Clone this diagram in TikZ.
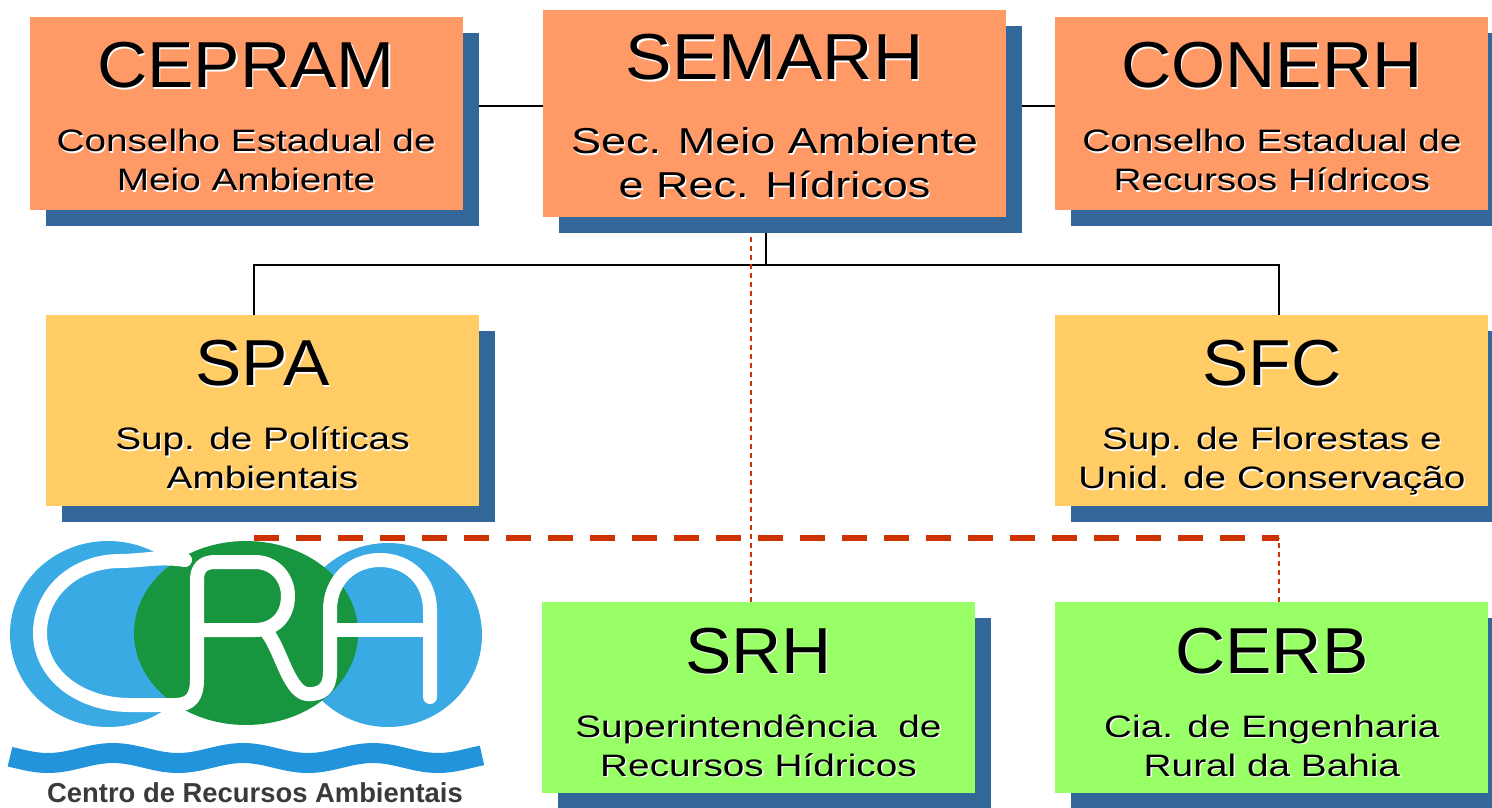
\documentclass[tikz,border=0pt]{standalone}
\usepackage{fontspec}
\setmainfont{Liberation Sans}
\newfontfamily\ttlfont[FakeStretch=1.07]{Liberation Sans}
\newfontfamily\subfont[FakeStretch=1.25]{Liberation Sans}
\usepackage{tikz}
\usetikzlibrary{positioning}
\usetikzlibrary{shadows}
\usetikzlibrary{backgrounds}
\usepackage{xcolor}
\definecolor{boxorange}{HTML}{FF9966}
\definecolor{boxyellow}{HTML}{FFCC66}
\definecolor{boxgreen}{HTML}{99FF66}
\definecolor{shadowblue}{HTML}{336699}
\definecolor{reddash}{HTML}{CC3300}
\definecolor{logoblue}{HTML}{3AAAE4}
\definecolor{logogreen}{HTML}{17963F}
\definecolor{waveblue}{HTML}{2294DC}
\definecolor{logogray}{HTML}{3A3A3A}
% text with a light offset copy behind it
\newcommand\emb[1]{\makebox[0pt][l]{\hspace*{1.3pt}\raisebox{-1.3pt}{\color{white}#1}}#1}
\newcommand\orgtext[4]{
  \node[ttl, anchor=base] (#1T) at ([yshift=-71pt]#1.north) {\emb{#2}};
  \node[sub, anchor=base] (#1A) at ([yshift=-135pt]#1.north) {\emb{#3}};
  \node[sub, anchor=base] (#1B) at ([yshift=-174pt]#1.north) {\emb{#4}};
}

\begin{document}
\begin{tikzpicture}[x=1pt, y=1pt,
    orgbox/.style={rectangle, inner sep=0pt, minimum width=433pt, minimum height=191pt,
      drop shadow={shadow xshift=16pt, shadow yshift=-16pt, fill=shadowblue, opacity=1}},
    ttl/.style={font=\ttlfont\fontsize{65}{70}\selectfont, inner sep=0pt},
    sub/.style={font=\subfont\fontsize{31}{36}\selectfont, inner sep=0pt},
    link/.style={black, line width=1.5pt},
    thindash/.style={reddash, line width=1.3pt, dash pattern=on 5pt off 4pt},
    thickdash/.style={reddash, line width=5.5pt, dash pattern=on 25pt off 17pt},
    letter/.style={white, line width=14pt, line cap=round, line join=round}]
  \useasboundingbox (0,0) rectangle (1492,-807);

  % top row
  \node[orgbox, fill=boxorange, minimum width=463pt, minimum height=207pt] (semarh) at (774.5,-113.5) {};
  \node[orgbox, fill=boxorange, minimum height=193pt, left=80pt of semarh] (cepram) {};
  \node[orgbox, fill=boxorange, minimum height=193pt, right=49pt of semarh] (conerh) {};
  % middle row
  \node[orgbox, fill=boxyellow] (spa) at (262.5,-410.5) {};
  \node[orgbox, fill=boxyellow, right=576pt of spa] (sfc) {};
  % bottom row
  \node[orgbox, fill=boxgreen, below=96pt of sfc] (cerb) {};
  \node[orgbox, fill=boxgreen, left=80pt of cerb] (srh) {};

  \node[ttl, anchor=base] (semarhT) at ([yshift=-70pt]semarh.north) {\emb{SEMARH}};
  \node[sub, font=\subfont\fontsize{36}{40}\selectfont, anchor=base] (semarhA) at ([yshift=-144pt]semarh.north) {\emb{Sec. Meio Ambiente}};
  \node[sub, font=\subfont\fontsize{36}{40}\selectfont, anchor=base] (semarhB) at ([yshift=-188pt]semarh.north) {\emb{e Rec. Hídricos}};
  \orgtext{cepram}{CEPRAM}{Conselho Estadual de}{Meio Ambiente}
  \orgtext{conerh}{CONERH}{Conselho Estadual de}{Recursos Hídricos}
  \orgtext{spa}{SPA}{Sup. de Políticas}{Ambientais}
  \orgtext{sfc}{SFC}{Sup. de Florestas e}{Unid. de Conservação}
  \orgtext{srh}{SRH}{Superintendência\ \ de}{Recursos Hídricos}
  \orgtext{cerb}{CERB}{Cia. de Engenharia}{Rural da Bahia}

  \begin{scope}[on background layer]
    \draw[link] ([yshift=7.5pt]cepram.east) -- ([yshift=7.5pt]semarh.west);
    \draw[link] ([yshift=7.5pt]semarh.east) -- ([yshift=7.5pt]conerh.west);
    \coordinate (hub) at ([xshift=-8.5pt,yshift=-48pt]semarh.south);
    \draw[link] ([xshift=-8.5pt]semarh.south) -- (hub);
    \draw[link] ([xshift=-8.5pt]spa.north) |- (hub) -| ([xshift=7pt]sfc.north);
    % dashed links
    \draw[thindash] ([xshift=-7.5pt]srh.north) -- ([xshift=-7.5pt]srh.north |- semarh.south);
    \coordinate (rl) at ([xshift=-8.5pt,yshift=-32pt]spa.south);
    \coordinate (cerbtop) at ([xshift=7pt]cerb.north);
    \draw[thickdash] (rl) -- (rl -| cerbtop);
    \draw[thindash] (cerbtop) -- (cerbtop |- rl);
  \end{scope}

  % logo
  \fill[logoblue] (108,-634) ellipse [x radius=98, y radius=93];
  \fill[logoblue] (388,-635) ellipse [x radius=94, y radius=92];
  \fill[logogreen] (246,-633) ellipse [x radius=112, y radius=92];
  \draw[letter] (185,-560) .. controls (160,-556) and (140,-561) .. (120,-561)
    .. controls (75,-561) and (40,-592) .. (40,-633)
    .. controls (40,-675) and (80,-705) .. (130,-705) -- (175,-705)
    .. controls (192,-705) and (197,-695) .. (197,-680) -- (197,-580)
    .. controls (197,-568) and (203,-562) .. (215,-562) -- (255,-562)
    .. controls (275,-562) and (288,-578) .. (288,-596)
    .. controls (288,-616) and (275,-630) .. (255,-630) -- (197,-630);
  \draw[letter] (265,-630) .. controls (280,-645) and (288,-692) .. (307,-694)
    .. controls (322,-695) and (330,-688) .. (330,-672) -- (330,-610)
    .. controls (330,-580) and (352,-560) .. (380,-560)
    .. controls (408,-560) and (430,-580) .. (430,-610) -- (430,-697);
  \draw[letter] (330,-630) -- (430,-630);
  \draw[waveblue, line width=20pt] plot[domain=10:482, samples=90] (\x, {-758 + 5*cos(((\x-113)/130)*360)});
  \node[font=\bfseries\fontsize{27.4}{30}\selectfont, text=logogray, inner sep=0pt, anchor=base] (cratxt) at (255,-802) {Centro de Recursos Ambientais};
\end{tikzpicture}
\end{document}
